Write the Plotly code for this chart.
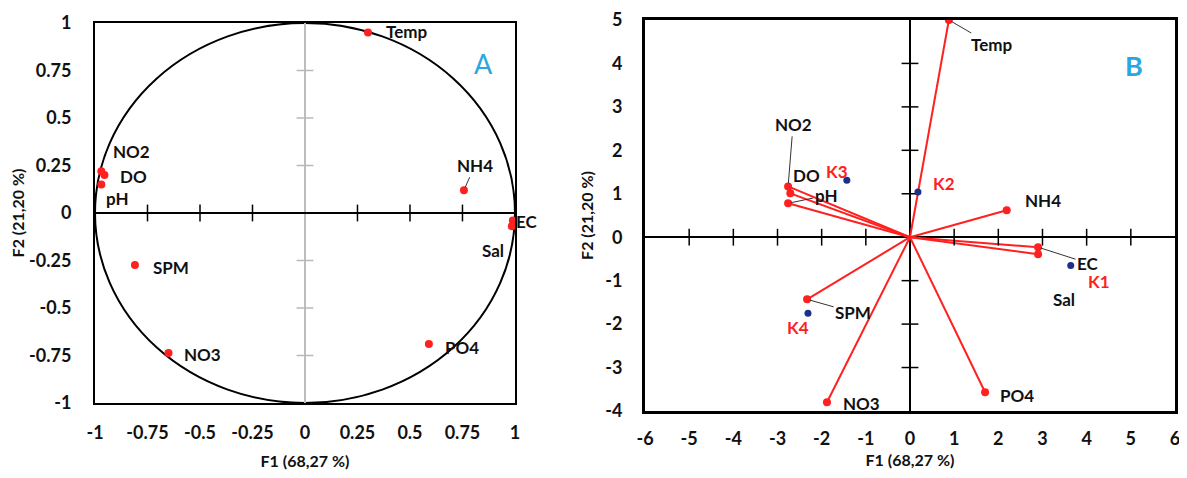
import plotly.graph_objects as go

# ---------------- data ----------------
variables = ["Temp", "NH4", "EC", "Sal", "NO2", "DO", "pH", "SPM", "NO3", "PO4"]
# Panel A: correlation circle (loadings)
a_f1 = [0.30, 0.757, 0.99, 0.985, -0.97, -0.955, -0.97, -0.81, -0.65, 0.59]
a_f2 = [0.95, 0.12, -0.04, -0.07, 0.22, 0.20, 0.15, -0.274, -0.737, -0.69]
# Panel B: biplot variable vectors
b_f1 = [0.88, 2.19, 2.90, 2.90, -2.76, -2.71, -2.76, -2.33, -1.88, 1.70]
b_f2 = [5.00, 0.62, -0.23, -0.39, 1.17, 1.01, 0.78, -1.43, -3.80, -3.57]
# Panel B: sites
sites = ["K1", "K2", "K3", "K4"]
site_f1 = [3.64, 0.18, -1.43, -2.31]
site_f2 = [-0.65, 1.04, 1.31, -1.75]

a_ticks = [-1, -0.75, -0.5, -0.25, 0, 0.25, 0.5, 0.75, 1]
a_tick_labels = ["-1", "-0.75", "-0.5", "-0.25", "0", "0.25", "0.5", "0.75", "1"]
b_xticks = [-6, -5, -4, -3, -2, -1, 0, 1, 2, 3, 4, 5, 6]
b_xtick_labels = ["-6", "-5", "-4", "-3", "-2", "-1", "0", "1", "2", "3", "4", "5", "6"]
b_yticks = [-4, -3, -2, -1, 0, 1, 2, 3, 4, 5]
b_ytick_labels = ["-4", "-3", "-2", "-1", "0", "1", "2", "3", "4", "5"]
x_title = "F1 (68,27 %)"
y_title = "F2 (21,20 %)"

# ---------------- styles / label placement (pixel offsets) ----------------
RED = "#ff2020"
NAVY = "#1c2f8c"
BLUE_TXT = "#2aa7df"
FONT = "Lato"
# (xshift, yshift, leader?) : leader -> annotation arrow from label to point
a_label_pos = {
    "Temp": (39, 1, False), "NH4": (11, 25, True), "EC": (14, -1, False),
    "Sal": (-19, -24, False), "NO2": (30, 20, False), "DO": (29, -2, False),
    "pH": (16, -14, False), "SPM": (36, -2, False), "NO3": (34, -1, False),
    "PO4": (33, -3, False),
}
b_label_pos = {
    "Temp": (43, -25, True), "NH4": (36, 10, False), "EC": (50, -16, True),
    "Sal": (26, -45, False), "NO2": (5, 62, True), "DO": (16, 18, False),
    "pH": (38, 8, True), "SPM": (46, -13, True), "NO3": (35, -1, False),
    "PO4": (32, -3, False),
}
site_label_pos = {"K1": (28, -16), "K2": (26, 9), "K3": (-10, 9), "K4": (-10, -14)}

fig = go.Figure()

# ---------- Panel A ----------
fig.add_shape(type="circle", xref="x", yref="y", x0=-1, y0=-1, x1=1, y1=1,
              line=dict(color="black", width=2), layer="below")
inner_a = [t for t in a_ticks if t not in (-1, 0, 1)]
fig.add_trace(go.Scatter(x=inner_a, y=[0] * len(inner_a), mode="markers",
                         marker=dict(symbol="line-ns", size=12, line=dict(color="black", width=1.5)),
                         xaxis="x", yaxis="y", hoverinfo="skip", showlegend=False))
fig.add_trace(go.Scatter(x=[0] * len(inner_a), y=inner_a, mode="markers",
                         marker=dict(symbol="line-ew", size=12, line=dict(color="#b8b8b8", width=1.5)),
                         xaxis="x", yaxis="y", hoverinfo="skip", showlegend=False))
fig.add_trace(go.Scatter(x=a_f1, y=a_f2, mode="markers",
                         marker=dict(color=RED, size=8), xaxis="x", yaxis="y",
                         showlegend=False, text=variables))

# ---------- Panel B ----------
vx, vy = [], []
for x, y in zip(b_f1, b_f2):
    vx += [0, x, None]
    vy += [0, y, None]
fig.add_trace(go.Scatter(x=vx, y=vy, mode="lines", line=dict(color=RED, width=2),
                         xaxis="x2", yaxis="y2", showlegend=False, hoverinfo="skip"))
inner_bx = [t for t in b_xticks if t not in (-6, 0, 6)]
inner_by = [t for t in b_yticks if t not in (-4, 0, 5)]
fig.add_trace(go.Scatter(x=inner_bx, y=[0] * len(inner_bx), mode="markers",
                         marker=dict(symbol="line-ns", size=12, line=dict(color="black", width=1.5)),
                         xaxis="x2", yaxis="y2", hoverinfo="skip", showlegend=False))
fig.add_trace(go.Scatter(x=[0] * len(inner_by), y=inner_by, mode="markers",
                         marker=dict(symbol="line-ew", size=12, line=dict(color="black", width=1.5)),
                         xaxis="x2", yaxis="y2", hoverinfo="skip", showlegend=False))
fig.add_trace(go.Scatter(x=b_f1, y=b_f2, mode="markers", marker=dict(color=RED, size=8),
                         xaxis="x2", yaxis="y2", showlegend=False, text=variables))
fig.add_trace(go.Scatter(x=site_f1, y=site_f2, mode="markers", marker=dict(color=NAVY, size=7),
                         xaxis="x2", yaxis="y2", showlegend=False, text=sites))

# ---------- labels ----------
lab_font = dict(family=FONT, size=17, color="#111111", weight="bold")
site_font = dict(family=FONT, size=17, color=RED, weight="bold")

def add_labels(names, xs, ys, pos, xr, yr, font):
    for n, x, y in zip(names, xs, ys):
        dx, dy, lead = pos[n] if len(pos[n]) == 3 else (*pos[n], False)
        if lead:
            fig.add_annotation(x=x, y=y, xref=xr, yref=yr, text=n, font=font,
                               showarrow=True, ax=dx, ay=-dy, arrowhead=0,
                               arrowwidth=1, arrowcolor="#333333", standoff=3)
        else:
            fig.add_annotation(x=x, y=y, xref=xr, yref=yr, text=n, font=font,
                               showarrow=False, xshift=dx, yshift=dy)

add_labels(variables, a_f1, a_f2, a_label_pos, "x", "y", lab_font)
add_labels(variables, b_f1, b_f2, b_label_pos, "x2", "y2", lab_font)
add_labels(sites, site_f1, site_f2, site_label_pos, "x2", "y2", site_font)

fig.add_annotation(xref="x domain", yref="y domain", x=0.952, y=0.942, text="A",
                   showarrow=False, font=dict(family=FONT, size=27, color=BLUE_TXT))
fig.add_annotation(xref="x2 domain", yref="y2 domain", x=0.943, y=0.931, text="B",
                   showarrow=False, font=dict(family=FONT, size=27, color=BLUE_TXT, weight="bold"))

tick_font = dict(family=FONT, size=18, color="#111111", weight="bold")
title_font = dict(family=FONT, size=16, color="#111111", weight="bold")
common = dict(showgrid=False, showline=True, mirror=True, linecolor="black", automargin=False,
              ticks="outside", tickcolor="rgba(0,0,0,0)", tickfont=tick_font,
              ticklabeloverflow="allow")

# page body has an 8px margin: figure sized/positioned to match the 1187x478 view
fig.update_layout(
    width=1179, height=470, paper_bgcolor="white", plot_bgcolor="white",
    margin=dict(l=0, r=0, t=0, b=0), showlegend=False,
    xaxis=dict(domain=[0.0738, 0.4300], range=[-1, 1], tickvals=a_ticks, ticktext=a_tick_labels,
               zeroline=True, zerolinecolor="#bdbdbd", zerolinewidth=2, linewidth=2, ticklen=12,
               title=dict(text=x_title, font=title_font, standoff=14), anchor="y", **common),
    yaxis=dict(domain=[0.1596, 0.9681], range=[-1, 1], tickvals=a_ticks, ticktext=a_tick_labels,
               zeroline=True, zerolinecolor="black", zerolinewidth=1.5, linewidth=2, ticklen=18,
               title=dict(text=y_title, font=title_font, standoff=2), anchor="x", **common),
    xaxis2=dict(domain=[0.5403, 0.9898], range=[-6, 6], tickvals=b_xticks, ticktext=b_xtick_labels,
                zeroline=True, zerolinecolor="black", zerolinewidth=1.5, linewidth=3, ticklen=9,
                title=dict(text=x_title, font=title_font, standoff=8), anchor="y2", **common),
    yaxis2=dict(domain=[0.1426, 0.9745], range=[-4, 5], tickvals=b_yticks, ticktext=b_ytick_labels,
                zeroline=True, zerolinecolor="black", zerolinewidth=1.5, linewidth=3, ticklen=16,
                title=dict(text=y_title, font=title_font, standoff=8), anchor="x2", **common),
)

fig.write_html("out.html")
